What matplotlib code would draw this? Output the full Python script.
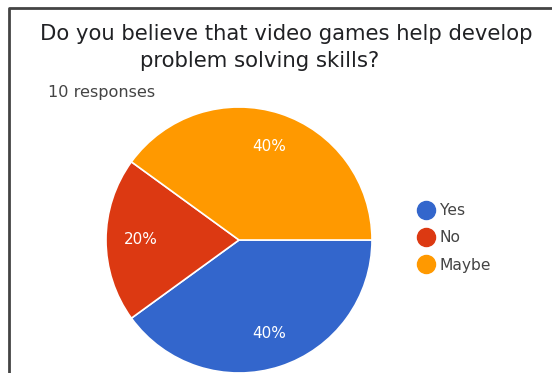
import matplotlib.pyplot as plt
from matplotlib.lines import Line2D

# survey answers
answers = ["Yes", "No", "Maybe"]
counts = [4, 2, 4]
colors = ["#3366cc", "#dc3912", "#ff9900"]

W, H = 552, 373
fig = plt.figure(figsize=(W / 100, H / 100), dpi=100)
ax = fig.add_axes([0, 0, 1, 1])
ax.set_xlim(0, W)
ax.set_ylim(0, H)
ax.set_aspect("equal")
ax.axis("off")

# frame on the top and left side
ax.plot([9, 9, W], [0, H - 8, H - 8], color="#444444", lw=2, solid_capstyle="butt")

wedges, texts, autotexts = ax.pie(
    counts, colors=colors, center=(239, H - 240), radius=133,
    startangle=0, counterclock=False, autopct="%1.0f%%", pctdistance=0.74,
    wedgeprops=dict(edgecolor="white", linewidth=1.2),
    textprops=dict(color="white", fontsize=11))
ax.set_xlim(0, W)
ax.set_ylim(0, H)

# title, two lines
ax.text(286, H - 34, "Do you believe that video games help develop",
        ha="center", va="center", fontsize=15.2, color="#202124")
ax.text(260, H - 61, "problem solving skills?",
        ha="center", va="center", fontsize=15.3, color="#202124")
ax.text(48, H - 93, "10 responses", ha="left", va="center",
        fontsize=11.6, color="#444444")

handles = [Line2D([], [], marker="o", ls="", markersize=13,
                  markerfacecolor=c, markeredgecolor=c) for c in colors]
fig.legend(handles, answers, loc="center left",
           bbox_to_anchor=(403 / W, 1 - 238 / H), frameon=False,
           fontsize=11.2, labelcolor="#444444", handletextpad=0.25,
           labelspacing=0.78, handlelength=1.2)

fig.savefig("out.png", dpi=100)
